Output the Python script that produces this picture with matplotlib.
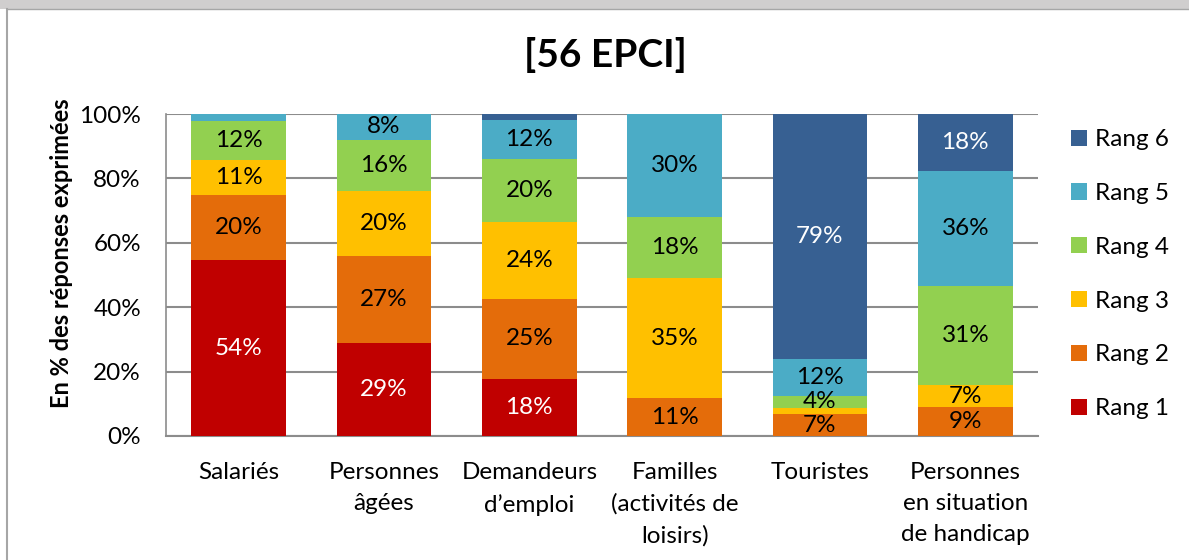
import matplotlib
matplotlib.use("Agg")
import matplotlib.pyplot as plt
import numpy as np
from matplotlib.patches import Rectangle
from matplotlib.lines import Line2D

plt.rcParams['font.family'] = ['Lato', 'DejaVu Sans']

categories = ["Salariés", "Personnes\nâgées", "Demandeurs\nd\u2019emploi",
              "Familles\n(activités de\nloisirs)", "Touristes",
              "Personnes\nen situation\nde handicap"]
series_names = ["Rang 1", "Rang 2", "Rang 3", "Rang 4", "Rang 5", "Rang 6"]
rang1 = [54, 29, 18, 0, 0, 0]
rang2 = [20, 27, 25, 11, 7, 9]
rang3 = [11, 20, 24, 35, 2, 7]
rang4 = [12, 16, 20, 18, 4, 31]
rang5 = [2, 8, 12, 30, 12, 36]
rang6 = [0, 0, 2, 0, 79, 18]
title = "[56 EPCI]"
ylabel = "En % des réponses exprimées"
yticks = [0, 20, 40, 60, 80, 100]

colors = ["#C00000", "#E46C0A", "#FFC000", "#92D050", "#4BACC6", "#376092"]
label_colors = ["white", "black", "black", "black", "black", "white"]

data = np.array([rang1, rang2, rang3, rang4, rang5, rang6], dtype=float)
totals = data.sum(axis=0)
norm = data / totals * 100

FS = 17.5

W, H = 1189, 560
fig = plt.figure(figsize=(W / 100, H / 100), dpi=100)
# frame
fig.patches.append(Rectangle((0, 1 - 9 / H), 1, 9 / H, transform=fig.transFigure,
                             facecolor="#D0CECE", edgecolor="none", zorder=0))
fig.lines.append(Line2D([7 / W, 7 / W], [0, 1 - 9 / H], transform=fig.transFigure,
                        color="#A6A6A6", lw=1.5))
fig.lines.append(Line2D([7 / W, 1], [1 - 9 / H, 1 - 9 / H], transform=fig.transFigure,
                        color="#A6A6A6", lw=1.0))

ax = fig.add_axes([166 / W, 1 - 436 / H, (1038 - 166) / W, (436 - 114) / H])
x = np.arange(len(categories))
bottom = np.zeros(len(categories))
handles = []
for i, name in enumerate(series_names):
    bars = ax.bar(x, norm[i], width=0.65, bottom=bottom, color=colors[i],
                  label=name, zorder=3, edgecolor="none")
    handles.append(bars)
    for j in range(len(categories)):
        v = data[i, j]
        if v >= 3:
            ax.text(x[j], bottom[j] + norm[i, j] / 2, f"{int(v)}%",
                    ha="center", va="center", fontsize=FS,
                    color=label_colors[i], zorder=4)
    bottom += norm[i]

ax.set_xlim(-0.5, len(categories) - 0.5)
ax.set_ylim(0, 100)
ax.set_yticks(yticks)
ax.set_yticklabels([f"{t}%" for t in yticks], fontsize=FS)
ax.yaxis.grid(True, color="#8C8C8C", lw=1.5, zorder=0)
ax.set_axisbelow(True)
ax.tick_params(axis="y", length=0, pad=18)
ax.tick_params(axis="x", length=0, pad=19)
ax.set_xticks(x)
ax.set_xticklabels(categories, fontsize=FS, linespacing=1.58, va="top")
for s in ["top", "right"]:
    ax.spines[s].set_visible(False)
ax.spines["left"].set_color("#8C8C8C")
ax.spines["bottom"].set_color("#8C8C8C")
ax.spines["left"].set_linewidth(1.2)
ax.spines["bottom"].set_linewidth(1.5)
ax.set_ylabel(ylabel, fontsize=17, fontweight="bold")
ax.yaxis.set_label_coords((73 - 166) / 872, (436 - 253) / 322)

fig.text(605 / W, 1 - 55 / H, title, ha="center", va="center",
         fontsize=28, fontweight="bold")

leg = fig.legend(handles[::-1], series_names[::-1], loc="upper left",
                 bbox_to_anchor=(1059 / W, 1 - 117 / H), frameon=False,
                 fontsize=FS, handlelength=0.65, handleheight=0.65,
                 handletextpad=0.35, labelspacing=1.35, borderpad=0)

fig.savefig("out.png", dpi=100)
